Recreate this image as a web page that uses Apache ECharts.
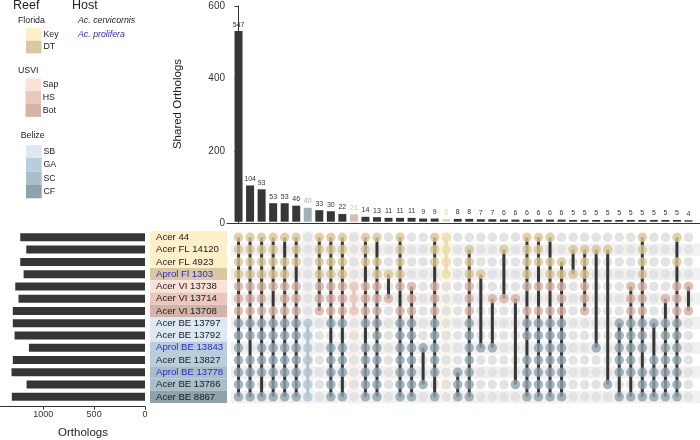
<!DOCTYPE html>
<html><head><meta charset="utf-8">
<script src="https://cdn.jsdelivr.net/npm/echarts@6/dist/echarts.min.js"></script>
<style>html,body{margin:0;padding:0;background:#fff}#c{width:700px;height:440px}</style>
</head><body><div id="c"></div>
<script>
const FONT = 'Liberation Sans, Arial, sans-serif';
const setNames = ['Acer 44','Acer FL 14120','Acer FL 4923','Aprol Fl 1303','Acer VI 13738','Acer VI 13714','Acer VI 13708','Acer BE 13797','Acer BE 13792','Aprol BE 13843','Acer BE 13827','Aprol BE 13778','Acer BE 13786','Acer BE 8867'];
const setReef = ['Key','Key','Key','DT','Sap','HS','Bot','SB','SB','GA','GA','SC','SC','CF'];
const setRegion = ['Florida','Florida','Florida','Florida','USVI','USVI','USVI','Belize','Belize','Belize','Belize','Belize','Belize','Belize'];
const setHost = ['cer','cer','cer','pro','cer','cer','cer','cer','cer','pro','cer','pro','cer','cer'];
const setSizes = [1226,1167,1226,1193,1275,1243,1299,1299,1282,1141,1299,1312,1164,1309];
const intersectionSizes = [547,104,93,53,53,46,40,33,30,22,21,14,13,11,11,11,9,9,8,8,8,7,7,6,6,6,6,6,6,5,5,5,5,5,5,5,5,5,5,4];
const countTicks = [0,200,400,600];
const ALL = [0,1,2,3,4,5,6,7,8,9,10,11,12,13];
const without = (...r) => ALL.filter(x => !r.includes(x));
const intersectionSets = [
  ALL, without(9), without(12), without(5), without(1), without(3),
  [7,8,9,10,11,12,13], [0,1,2,3,4,5,6], without(8), without(8,12),
  [4,5,6], without(3,8), without(1), [3,5], without(5), [4,5,6,7,8,9,10,11,12,13],
  [9,12], without(3,12), [0,1,2,3], [11,12,13], without(0), [3,9], [5,9], [1,5], [5,12],
  without(5,9), without(3,5), without(1,5), [2,3,4,5,6,7,8,9,10,11,12,13], [1,3], [1,2,3,4,5,6],
  [1,9], [1,12], [7,8,9,10,11,13], [4,5,6,7,8,9,10,11,13], without(10), [7,10,11,12,13],
  [5,7,8,9,10,11,12,13], without(1,3), [4,6]
];
const highlightCols = {6:'Belize', 10:'USVI', 18:'Florida'};

const reefColor = {Key:'#fdf0c9', DT:'#d8c9a0', Sap:'#fbe2d9', HS:'#ebc6ba', Bot:'#d3b4a9', SB:'#dce9f3', GA:'#b9cedd', SC:'#a9becb', CF:'#8fa1ab'};
const dotColor = {Florida:'#d8c594', USVI:'#d5afa2', Belize:'#8fa3ae'};
const lightDot = {Florida:'#ecdcaa', USVI:'#e5c6bb', Belize:'#b3c4ce'};
const bandColor = {Florida:'#fcf6e4', USVI:'#fbefeb', Belize:'#eef3f6'};
const barHL = {Florida:'#e9d9a6', USVI:'#dbbcb1', Belize:'#9fb1bb'};
const hostColor = {cer:'#1a1a1a', pro:'#2b1fd0'};
const DARK = '#363636';

const greyDots = [], colDots = [], lineData = [], lineColors = [];
intersectionSets.forEach((s, i) => {
  const hl = highlightCols[i];
  for (let r = 0; r < setNames.length; r++) {
    if (s.includes(r)) {
      colDots.push({value:[i, r], itemStyle:{color: hl ? lightDot[setRegion[r]] : dotColor[setRegion[r]]}});
    } else {
      greyDots.push([i, r]);
    }
  }
  if (s.length > 1) {
    lineData.push([i, Math.min(...s), Math.max(...s)]);
    lineColors.push(hl ? lightDot[hl] : DARK);
  }
});
const barData = intersectionSizes.map((v, i) => ({
  value:[i, v],
  itemStyle:{color: highlightCols[i] ? barHL[highlightCols[i]] : DARK},
  label:{color: highlightCols[i] ? barHL[highlightCols[i]] : '#333'}
}));
const oddRows = setNames.map((_, r) => r).filter(r => r % 2 === 1);
const hlData = Object.keys(highlightCols).map(k => [Number(k), highlightCols[k]]);

const rich = {};
setNames.forEach((n, r) => {
  rich['r' + r] = {backgroundColor: reefColor[setReef[r]], color: hostColor[setHost[r]], width: 71, height: 12.27, lineHeight: 12.27, padding:[0,0,0,6], fontSize: 9.6, fontFamily: FONT, align:'left', verticalAlign:'middle'};
});

const chart = echarts.init(document.getElementById('c'), null, {renderer:'canvas'});
const axisTxt = {color:'#333', fontFamily: FONT};
const option = {
  animation: false,
  backgroundColor: '#fff',
  grid: [
    {left: 227, top: 6, width: 473, height: 217.3},
    {left: 227, top: 231.2, width: 473, height: 171.8},
    {left: 0, top: 231.2, width: 145, height: 171.8}
  ],
  xAxis: [
    {gridIndex:0, type:'value', min:-1, max:40, axisLabel:{show:false}, axisTick:{show:false}, splitLine:{show:false}, axisLine:{show:true, lineStyle:{color:'#333', width:1}}},
    {gridIndex:1, type:'value', min:-1, max:40, show:false},
    {gridIndex:2, type:'value', min:0, max:1425, interval:500, inverse:true, offset:3.7,
      axisLine:{show:true, lineStyle:{color:'#333'}}, axisTick:{show:true, length:3, lineStyle:{color:'#333'}},
      axisLabel:Object.assign({fontSize:9, margin:3, showMaxLabel:false, formatter: v => String(v)}, axisTxt), splitLine:{show:false}}
  ],
  yAxis: [
    {gridIndex:0, type:'value', min:countTicks[0], max:countTicks[countTicks.length-1], interval:200,
      axisLine:{show:true, lineStyle:{color:'#333'}}, axisTick:{show:true, length:4, lineStyle:{color:'#333'}},
      axisLabel:Object.assign({fontSize:10, margin:2}, axisTxt), splitLine:{show:false}},
    {gridIndex:1, type:'category', data:setNames, inverse:true,
      axisLine:{show:false}, axisTick:{show:false},
      axisLabel:{show:true, margin:77, align:'left', interval:0, formatter:(v, idx) => '{r' + idx + '|' + v + '}', rich: rich}},
    {gridIndex:2, type:'category', data:setNames, inverse:true, show:false},
    {gridIndex:0, type:'value', min:-4.6, max:619, show:false}
  ],
  series: [
    {type:'bar', xAxisIndex:0, yAxisIndex:3, data:barData, barWidth:8, z:1,
      label:{show:true, position:'top', distance:3, fontSize:7, fontFamily:FONT}},
    {type:'custom', xAxisIndex:1, yAxisIndex:1, z:1, silent:true, data:oddRows.map(r => [r]),
      encode:{y:0},
      renderItem:(params, api) => {
        const cs = params.coordSys;
        const c = api.coord([-1, api.value(0)]);
        const h = api.size([0, 1])[1];
        return {type:'rect', shape:{x:cs.x + 4, y:c[1] - h/2, width:cs.width - 4, height:h}, style:{fill:'#f1f1f1'}};
      }},
    {type:'custom', xAxisIndex:1, yAxisIndex:1, z:1, silent:true, data:hlData,
      encode:{x:0},
      renderItem:(params, api) => {
        const cs = params.coordSys;
        const c = api.coord([api.value(0), 0]);
        const w = api.size([1, 0])[0];
        return {type:'rect', shape:{x:c[0] - w/2, y:cs.y, width:w, height:cs.height}, style:{fill:bandColor[hlData[params.dataIndex][1]], opacity:0.9}};
      }},
    {type:'scatter', xAxisIndex:1, yAxisIndex:1, z:2, data:greyDots, symbolSize:9.5, itemStyle:{color:'#e3e3e3', opacity:1}, silent:true},
    {type:'custom', xAxisIndex:1, yAxisIndex:1, z:3, silent:true, data:lineData,
      encode:{x:0, y:[1,2]},
      renderItem:(params, api) => {
        const p1 = api.coord([api.value(0), api.value(1)]);
        const p2 = api.coord([api.value(0), api.value(2)]);
        return {type:'line', shape:{x1:p1[0], y1:p1[1], x2:p2[0], y2:p2[1]}, style:{stroke:lineColors[params.dataIndex], lineWidth:3}};
      }},
    {type:'scatter', xAxisIndex:1, yAxisIndex:1, z:4, data:colDots, symbolSize:9.5, silent:true},
    {type:'bar', xAxisIndex:2, yAxisIndex:2, data:setSizes, barWidth:8, itemStyle:{color:DARK}}
  ],
  graphic: [
    {type:'text', x:178, y:104, rotation:Math.PI/2, style:{text:'Shared Orthologs', font:'11.5px ' + FONT, fill:'#222', align:'center', verticalAlign:'middle'}},
    {type:'text', x:83, y:433, style:{text:'Orthologs', font:'11.5px ' + FONT, fill:'#222', align:'center', verticalAlign:'middle'}},
    {type:'text', x:13, y:6, style:{text:'Reef', font:'12.5px ' + FONT, fill:'#222', verticalAlign:'middle'}},
    {type:'text', x:72, y:6, style:{text:'Host', font:'12.5px ' + FONT, fill:'#222', verticalAlign:'middle'}},
    {type:'text', x:78, y:20.7, style:{text:'Ac. cervicornis', font:'italic 8.8px ' + FONT, fill:'#222', verticalAlign:'middle'}},
    {type:'text', x:78, y:34.3, style:{text:'Ac. prolifera', font:'italic 8.8px ' + FONT, fill:'#2b1fd0', verticalAlign:'middle'}},
    {type:'text', x:18, y:20.7, style:{text:'Florida', font:'8.8px ' + FONT, fill:'#222', verticalAlign:'middle'}},
    {type:'rect', shape:{x:26, y:28, width:15.5, height:12.7}, style:{fill:reefColor.Key}},
    {type:'rect', shape:{x:26, y:40.7, width:15.5, height:12.7}, style:{fill:reefColor.DT}},
    {type:'text', x:43.5, y:34.3, style:{text:'Key', font:'8.8px ' + FONT, fill:'#222', verticalAlign:'middle'}},
    {type:'text', x:43.5, y:47, style:{text:'DT', font:'8.8px ' + FONT, fill:'#222', verticalAlign:'middle'}},
    {type:'text', x:18, y:70.3, style:{text:'USVI', font:'8.8px ' + FONT, fill:'#222', verticalAlign:'middle'}},
    {type:'rect', shape:{x:25.5, y:78.3, width:15.5, height:12.8}, style:{fill:reefColor.Sap}},
    {type:'rect', shape:{x:25.5, y:91.1, width:15.5, height:12.8}, style:{fill:reefColor.HS}},
    {type:'rect', shape:{x:25.5, y:103.9, width:15.5, height:13}, style:{fill:reefColor.Bot}},
    {type:'text', x:42.7, y:84.7, style:{text:'Sap', font:'8.8px ' + FONT, fill:'#222', verticalAlign:'middle'}},
    {type:'text', x:42.7, y:97.5, style:{text:'HS', font:'8.8px ' + FONT, fill:'#222', verticalAlign:'middle'}},
    {type:'text', x:42.7, y:110.5, style:{text:'Bot', font:'8.8px ' + FONT, fill:'#222', verticalAlign:'middle'}},
    {type:'text', x:20.7, y:135.7, style:{text:'Belize', font:'8.8px ' + FONT, fill:'#222', verticalAlign:'middle'}},
    {type:'rect', shape:{x:26, y:145, width:15.7, height:13}, style:{fill:reefColor.SB}},
    {type:'rect', shape:{x:26, y:158, width:15.7, height:13.5}, style:{fill:reefColor.GA}},
    {type:'rect', shape:{x:26, y:171.5, width:15.7, height:13.5}, style:{fill:reefColor.SC}},
    {type:'rect', shape:{x:26, y:185, width:15.7, height:13.3}, style:{fill:reefColor.CF}},
    {type:'text', x:43.5, y:151.5, style:{text:'SB', font:'8.8px ' + FONT, fill:'#222', verticalAlign:'middle'}},
    {type:'text', x:43.5, y:164.7, style:{text:'GA', font:'8.8px ' + FONT, fill:'#222', verticalAlign:'middle'}},
    {type:'text', x:43.5, y:178.2, style:{text:'SC', font:'8.8px ' + FONT, fill:'#222', verticalAlign:'middle'}},
    {type:'text', x:43.5, y:191.6, style:{text:'CF', font:'8.8px ' + FONT, fill:'#222', verticalAlign:'middle'}}
  ]
};
chart.setOption(option);
</script></body></html>
